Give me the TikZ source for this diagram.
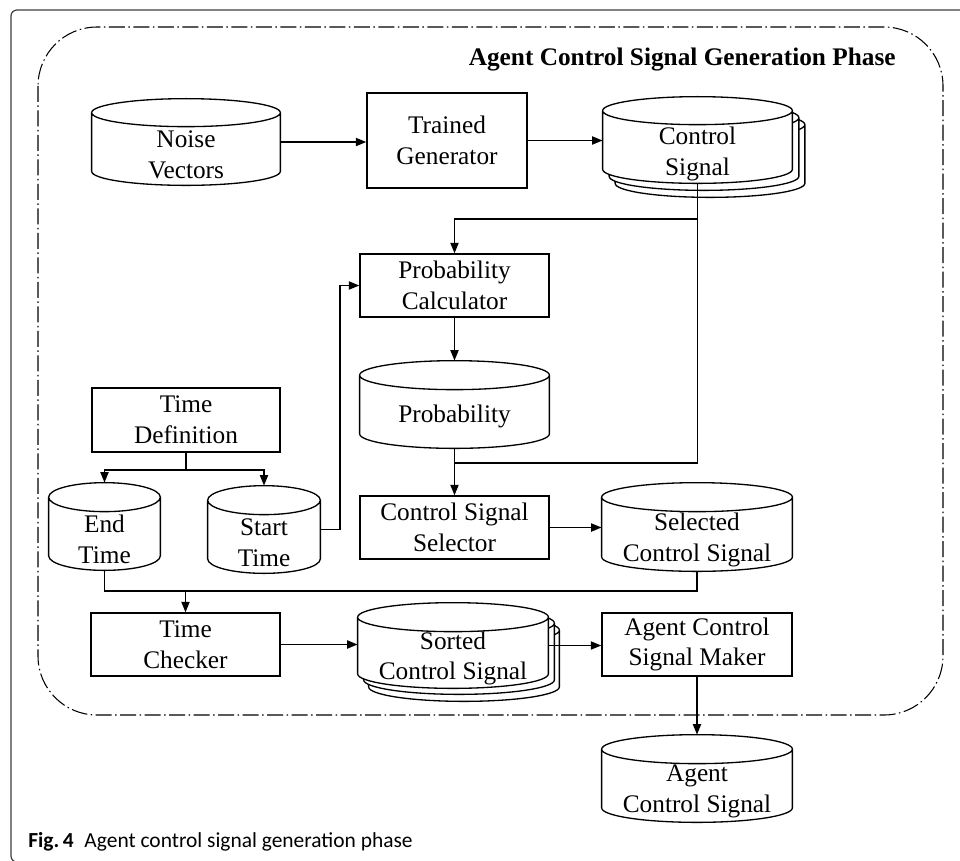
\documentclass[tikz,border=0pt]{standalone}
\usepackage{fontspec}
\setmainfont{Liberation Serif}
\newfontfamily\capfont{Carlito}
\usetikzlibrary{arrows.meta,calc,fit}
\tikzset{
  box/.style={draw, line width=0.75pt, inner sep=0pt, align=center, font=\fontsize{14.4}{17.5}\selectfont},
  cylbase/.style={draw=none, inner sep=0pt},
  cyltext/.style={align=center, inner sep=0pt, font=\fontsize{14.4}{17.5}\selectfont},
  cylline/.style={draw, line width=0.75pt, fill=white},
  conn/.style={line width=1.05pt},
  arr/.style={conn, -{Triangle[length=2.1mm,width=1.6mm]}},
  phase/.style={line width=0.6pt, dash pattern=on 0.32cm off 0.07cm on 0.03cm off 0.07cm},
}
% #1 node name, #2 y radius, #3 dx, #4 dy (shift of a copy)
\newcommand\cylshape[4]{%
  \path[cylline] let \p1=(#1.north west), \p2=(#1.south east) in
    (\x1+#3,\y1-#2-#4) -- (\x1+#3,\y2+#2-#4)
    arc[start angle=180,end angle=360,x radius={(\x2-\x1)/2},y radius=#2]
    -- (\x2+#3,\y1-#2-#4)
    arc[start angle=0,end angle=180,x radius={(\x2-\x1)/2},y radius=#2]
    -- cycle
    (\x1+#3,\y1-#2-#4)
    arc[start angle=180,end angle=360,x radius={(\x2-\x1)/2},y radius=#2];
}
\begin{document}
\begin{tikzpicture}[x=0.02cm,y=0.02cm]
\useasboundingbox (0,0) rectangle (960,-860);
\fill[white] (0,0) rectangle (960,-860);
% outer frame
\draw[line width=0.7pt, draw=black!75, rounded corners=0.12cm] (11,-10) rectangle (1010,-862);
% phase region
\draw[phase, rounded corners=1.18cm] (38,-27) rectangle (943,-715);
\node[anchor=base east, inner sep=0pt, font=\fontsize{14.4}{17.5}\selectfont\bfseries] (title) at (896,-65) {Agent Control Signal Generation Phase};

% cylinder footprints
\node[cylbase, fit={(92,-99)(280,-185)}] (nv) {};
\node[cylbase, fit={(603,-97)(792,-183)}] (cs) {};
\node[cylbase, fit={(360,-361)(549,-448)}] (pr) {};
\node[cylbase, fit={(49,-483)(160,-570)}] (et) {};
\node[cylbase, fit={(208,-486)(320,-573)}] (st) {};
\node[cylbase, fit={(602,-483)(792,-571)}] (scs) {};
\node[cylbase, fit={(358,-603)(548,-688)}] (sor) {};
\node[cylbase, fit={(602,-735)(792,-822)}] (acs) {};

% cylinders
\cylshape{nv}{0.28cm}{0pt}{0pt}
\cylshape{cs}{0.28cm}{0.25cm}{0.28cm}
\cylshape{cs}{0.28cm}{0.13cm}{0.14cm}
\cylshape{cs}{0.28cm}{0pt}{0pt}
\cylshape{pr}{0.29cm}{0pt}{0pt}
\cylshape{et}{0.29cm}{0pt}{0pt}
\cylshape{st}{0.29cm}{0pt}{0pt}
\cylshape{scs}{0.29cm}{0pt}{0pt}
\cylshape{sor}{0.29cm}{0.22cm}{0.26cm}
\cylshape{sor}{0.29cm}{0.12cm}{0.12cm}
\cylshape{sor}{0.29cm}{0pt}{0pt}
\cylshape{acs}{0.29cm}{0pt}{0pt}

% cylinder texts
\node[cyltext] (nvT) at ($(nv.center)+(0,-13)$) {Noise\\Vectors};
\node[cyltext] (csT) at ($(cs.center)+(0,-14)$) {Control\\Signal};
\node[cyltext] (prT) at ($(pr.center)+(0,-12)$) {Probability};
\node[cyltext] (etT) at ($(et.center)+(0,-13)$) {End\\Time};
\node[cyltext] (stT) at ($(st.center)+(0,-13)$) {Start\\Time};
\node[cyltext] (scsT) at ($(scs.center)+(0,-13)$) {Selected\\Control Signal};
\node[cyltext] (sorT) at ($(sor.center)+(0,-13)$) {Sorted\\Control Signal};
\node[cyltext] (acsT) at ($(acs.center)+(0,-13)$) {Agent\\Control Signal};

% boxes
\node[box, minimum width=3.2cm, minimum height=1.9cm] (tg) at (447,-140.5) {Trained\\Generator};
\node[box, minimum width=3.78cm, minimum height=1.26cm] (pc) at (454.5,-285.5) {Probability\\Calculator};
\node[box, minimum width=3.76cm, minimum height=1.28cm] (td) at (186,-420) {Time\\Definition};
\node[box, minimum width=3.78cm, minimum height=1.26cm] (css) at (454.5,-527.5) {Control Signal\\Selector};
\node[box, minimum width=3.78cm, minimum height=1.26cm] (tc) at (185.5,-644.5) {Time\\Checker};
\node[box, minimum width=3.8cm, minimum height=1.26cm] (acm) at (697,-644.5) {Agent Control\\Signal Maker};

% connectors
\draw[arr] (nv.east) -- (nv.east -| tg.west);
\draw[arr] (tg.east) -- (tg.east -| cs.west);
\coordinate (j1) at ($(cs.south)+(0,-36)$);
\coordinate (j2) at ($(pr.south)+(0,-15)$);
\draw[conn] (cs.south) -- (cs.south |- j2) -- (j2);
\draw[arr] (j1) -| (pc.north);
\draw[arr] (pc.south) -- (pr.north);
\draw[arr] (pr.south) -- (css.north);
\draw[arr] (css.east) -- (css.east -| scs.west);
\coordinate (j3) at ($(td.south)+(0,-17)$);
\draw[conn] (td.south) -- (j3);
\draw[arr] (j3) -| (et.north);
\draw[arr] (j3) -| (st.north);
\draw[arr] (st.east) -| ($(pc.west)+(-19,0)$) -- (pc.west);
\coordinate (j5) at ($(tc.north)+(0,21)$);
\draw[conn] (et.south) |- (scs.south |- j5) -- (scs.south);
\draw[arr] (j5) -- (tc.north);
\draw[arr] (tc.east) -- (tc.east -| sor.west);
\draw[arr] (sor.east) -- (sor.east -| acm.west);
\draw[arr] (acm.south) -- (acs.north);

% caption
\node[anchor=base west, inner sep=0pt, font=\capfont\fontsize{12.2}{14}\selectfont] (cap) at (28,-847) {\textbf{Fig.\,4}\hspace{0.5em}Agent control signal generation phase};
\end{tikzpicture}
\end{document}
